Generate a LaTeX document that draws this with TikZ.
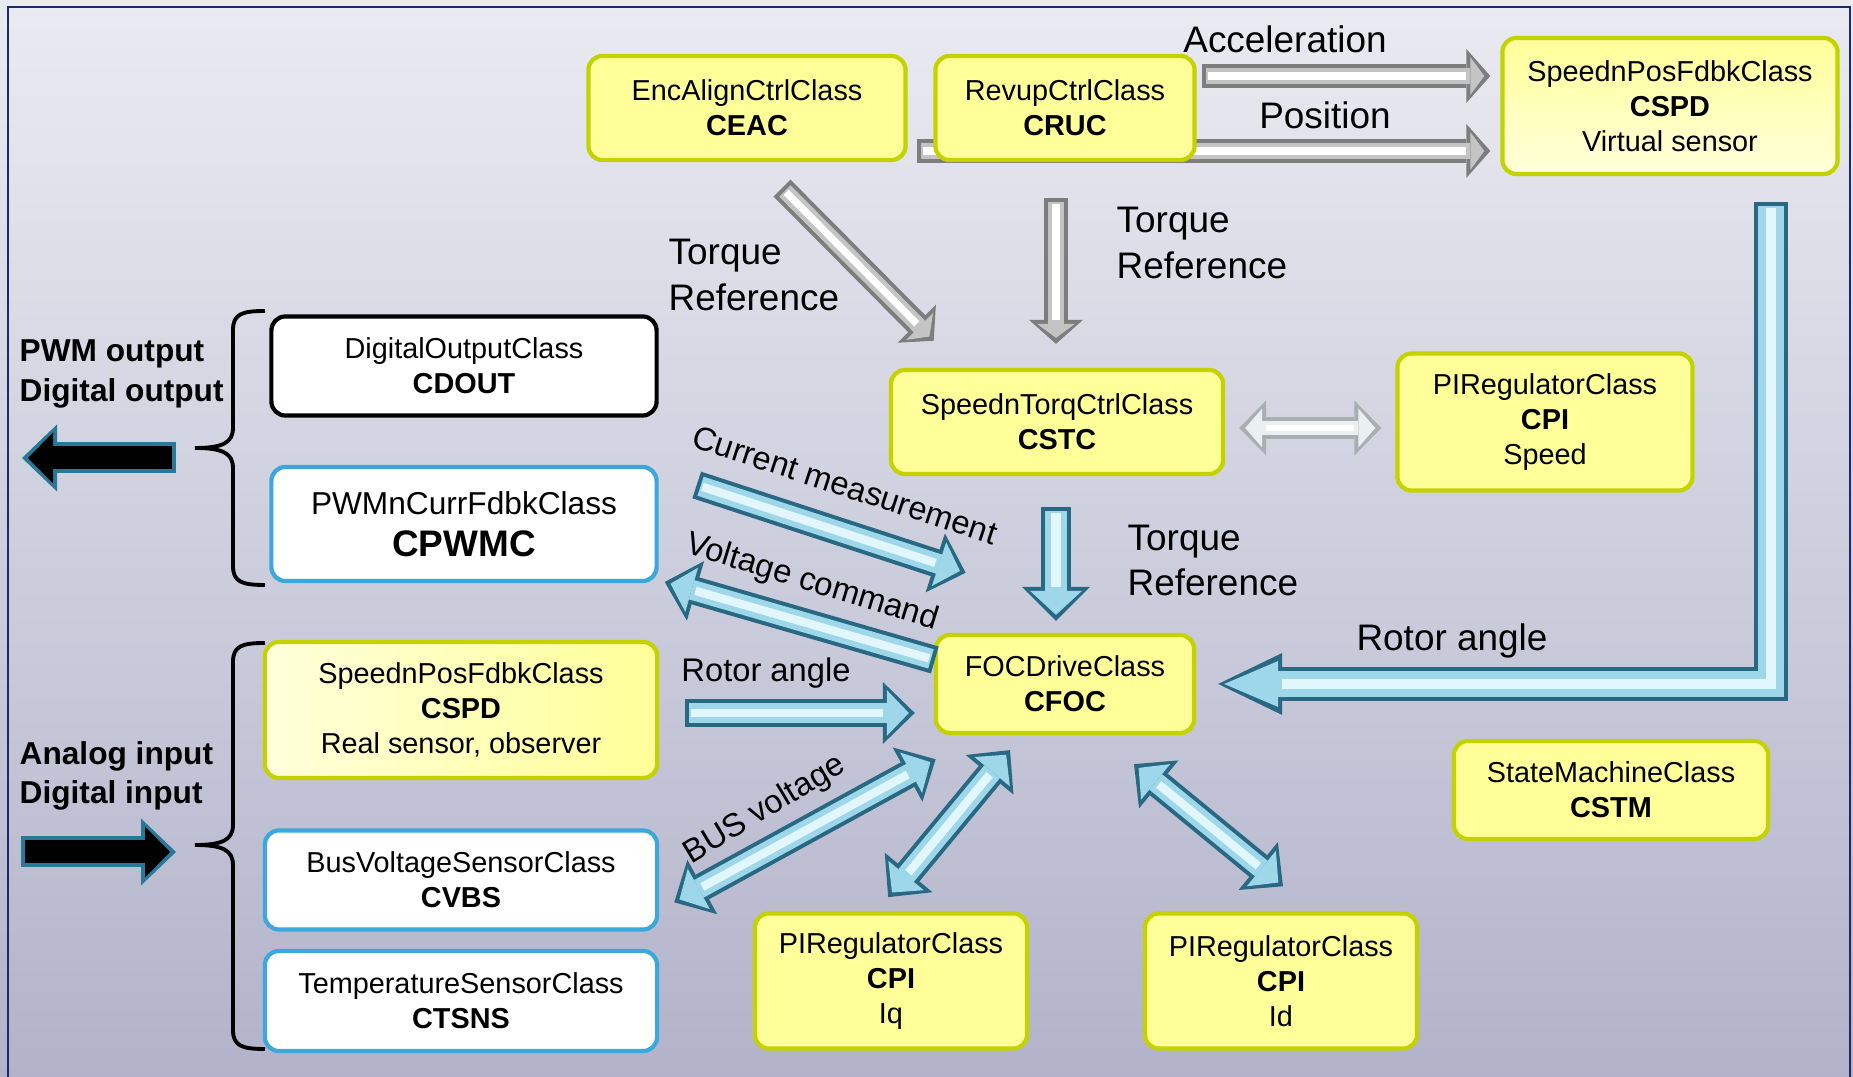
\documentclass[tikz,border=0pt]{standalone}
\usepackage{fontspec}
\setmainfont{Liberation Sans}
\usetikzlibrary{calc,decorations.markings}

\definecolor{yfill}{RGB}{255,255,153}
\definecolor{yedge}{RGB}{196,210,0}
\definecolor{bline}{RGB}{58,168,220}
\definecolor{aedge}{RGB}{40,104,130}
\definecolor{afill}{RGB}{158,214,234}
\definecolor{ashine}{RGB}{226,247,253}
\definecolor{gedge}{RGB}{125,125,125}
\definecolor{gfill}{RGB}{196,196,196}
\definecolor{ledge}{RGB}{168,174,178}
\definecolor{lfill}{RGB}{236,239,241}
\definecolor{kedge}{RGB}{42,120,152}
\definecolor{bgtop}{RGB}{234,235,241}
\definecolor{bgbot}{RGB}{178,179,202}
\definecolor{framecol}{RGB}{30,40,110}

% head of a block arrow, drawn at the end of the path
\newcommand\headtip[4]{%
  \fill[#1] (-#4,-#3/2) -- (0,0) -- (-#4,#3/2) -- cycle;
  \fill[#2] (-#4+4,-#3/2+8) -- (-6,0) -- (-#4+4,#3/2-8) -- cycle;}

\tikzset{
  box/.style={rounded corners=0.14cm, line width=1.2pt, align=center, inner sep=0pt,
    font=\fontsize{8.2}{10}\selectfont},
  ybox/.style={box, draw=yedge, fill=yfill},
  wbox/.style={box, draw=bline, fill=white},
  kbox/.style={box, draw=black, fill=white},
  lbl/.style={font=\fontsize{10.5}{12.8}\selectfont, align=left, inner sep=0pt},
  side/.style={font=\bfseries\fontsize{9}{11.1}\selectfont, align=left, inner sep=0pt, anchor=west},
  bracket/.style={line width=1.1pt},
  blockarrow/.style n args={6}{draw=#1, line width=#4*0.01cm, shorten >=#6*0.01cm,
    postaction={decorate, decoration={markings, mark=at position 1 with {\headtip{#1}{#2}{#5}{#6}}}},
    postaction={draw=#2, line width=(#4-8)*0.01cm, shorten >=(#6-4)*0.01cm, shorten <=0.04cm},
    postaction={draw=#3, line width=#4*0.003cm, shorten >=#6*0.01cm, shorten <=0.06cm}},
  blockarrows/.style n args={6}{draw=#1, line width=#4*0.01cm, shorten >=#6*0.01cm, shorten <=#6*0.01cm,
    postaction={decorate, decoration={markings,
      mark=at position 0 with {\begin{scope}[rotate=180]\headtip{#1}{#2}{#5}{#6}\end{scope}},
      mark=at position 1 with {\headtip{#1}{#2}{#5}{#6}}}},
    postaction={draw=#2, line width=(#4-8)*0.01cm, shorten >=(#6-4)*0.01cm, shorten <=(#6-4)*0.01cm},
    postaction={draw=#3, line width=#4*0.003cm, shorten >=#6*0.01cm, shorten <=#6*0.01cm}},
  grayarrow/.style={blockarrow={gedge}{gfill}{white}{24}{54}{24}},
  lightarrows/.style={blockarrows={ledge}{lfill}{white}{22}{55}{27}},
  bluearrow/.style={blockarrow={aedge}{afill}{ashine}{28}{62}{32}},
  bluearrows/.style={blockarrows={aedge}{afill}{ashine}{28}{62}{32}},
  blackarrow/.style={blockarrow={kedge}{black}{black}{31}{67}{35}},
}

\begin{document}
\begin{tikzpicture}[x=0.01cm, y=-0.01cm]
	\useasboundingbox (0,0) rectangle (1853,1077);
	\shade[top color=bgtop, bottom color=bgbot] (0,0) rectangle (1853,1077);
	\draw[framecol, line width=0.7pt] (8,7) rectangle (1850,1090);

	% upper row
	\node[ybox, minimum width=3.17cm, minimum height=1.04cm] (ceac) at (747,108) {EncAlignCtrlClass\\\textbf{CEAC}};
	\node[ybox, top color=yfill, bottom color=yfill!35!white, minimum width=3.35cm, minimum height=1.36cm] (cspdv) at (1670,106) {SpeednPosFdbkClass\\\textbf{CSPD}\\Virtual sensor};
	\path[grayarrow] ($(ceac.east)+(9,43)$) -- ($(cspdv.west)+(-10,45)$);
	\node[ybox, minimum width=2.59cm, minimum height=1.04cm] (cruc) at (1065,108) {RevupCtrlClass\\\textbf{CRUC}};
	\path[grayarrow] ($(cruc.east)+(5,-32)$) -- ($(cspdv.west)+(-10,-30)$);
	\node[lbl] (lacc) at (1285,39) {Acceleration};
	\node[lbl] (lpos) at (1325,115) {Position};

	% speed loop
	\node[ybox, minimum width=3.32cm, minimum height=1.04cm] (cstc) at (1057,422) {SpeednTorqCtrlClass\\\textbf{CSTC}};
	\node[ybox, minimum width=2.95cm, minimum height=1.37cm] (cpis) at (1545,422) {PIRegulatorClass\\\textbf{CPI}\\Speed};
	\path[grayarrow] ($(ceac.south)+(35,26)$) -- ($(cstc.north west)+(45,-27)$);
	\path[grayarrow] ($(cruc.south)+(-9,36)$) -- ($(cstc.north)+(-1,-24)$);
	\path[lightarrows] ($(cstc.east)+(14,6)$) -- ($(cpis.west)+(-14,6)$);
	\node[lbl, anchor=west] (ltq1) at (668,275) {Torque\\Reference};
	\node[lbl, anchor=west] (ltq2) at (1116,243) {Torque\\Reference};

	% output side
	\node[kbox, minimum width=3.85cm, minimum height=0.99cm] (cdout) at (464,366) {DigitalOutputClass\\\textbf{CDOUT}};
	\node[wbox, minimum width=3.85cm, minimum height=1.14cm, font=\fontsize{9}{12}\selectfont] (cpwmc) at (464,524) {PWMnCurrFdbkClass\\{\fontsize{10.5}{12}\selectfont\bfseries CPWMC}};

	% current loop
	\node[ybox, minimum width=2.58cm, minimum height=0.98cm] (cfoc) at (1065,684) {FOCDriveClass\\\textbf{CFOC}};
	\node[ybox, left color=yfill!35!white, right color=yfill, minimum width=3.92cm, minimum height=1.36cm] (cspdr) at (461,710) {SpeednPosFdbkClass\\\textbf{CSPD}\\Real sensor, observer};
	\node[wbox, minimum width=3.92cm, minimum height=0.99cm] (cvbs) at (461,880) {BusVoltageSensorClass\\\textbf{CVBS}};
	\node[wbox, minimum width=3.92cm, minimum height=1.00cm] (ctsns) at (461,1001) {TemperatureSensorClass\\\textbf{CTSNS}};
	\node[ybox, minimum width=2.72cm, minimum height=1.35cm] (cpiq) at (891,981) {PIRegulatorClass\\\textbf{CPI}\\Iq};
	\node[ybox, minimum width=2.72cm, minimum height=1.35cm] (cpid) at (1281,981) {PIRegulatorClass\\\textbf{CPI}\\Id};
	\node[ybox, minimum width=3.14cm, minimum height=0.98cm] (cstm) at (1611,790) {StateMachineClass\\\textbf{CSTM}};

	\path[blockarrow={aedge}{afill}{ashine}{30}{68}{34}] ($(cstc.south)+(-1,31)$) -- ($(cfoc.north)+(-9,-12)$);
	\path[bluearrow] ($(cpwmc.east)+(38,-39)$) -- ($(cfoc.north west)+(32,-60)$);
	\path[bluearrow] ($(cfoc.west)+(1,-24)$) -- ($(cpwmc.east)+(6,58)$);
	\path[bluearrow] ($(cspdr.east)+(26,3)$) -- ($(cfoc.west)+(-19,29)$);
	\path[bluearrows] ($(cvbs.north east)+(15,74)$) -- ($(cfoc.south west)+(2,24)$);
	\path[bluearrows] ($(cfoc.south)+(-55,15)$) -- ($(cpiq.north)+(-3,-14)$);
	\path[bluearrows] ($(cfoc.south)+(69,29)$) -- ($(cpid.north)+(2,-25)$);
	\path[blockarrow={aedge}{afill}{ashine}{34}{62}{64}] ($(cspdv.south)+(101,26)$) |- ($(cfoc.east)+(22,0)$);

	\node[lbl, anchor=west] (ltq3) at (1127,560) {Torque\\Reference};
	\node[lbl] (lrot1) at (1452,641) {Rotor angle};
	\node[lbl, font=\fontsize{9.3}{11}\selectfont] (lrot2) at (766,673) {Rotor angle};
	\node[lbl, font=\fontsize{9.3}{11}\selectfont, rotate=-18] (lcur) at (845,485) {Current measurement};
	\node[lbl, font=\fontsize{9.3}{11}\selectfont, rotate=-17] (lvolt) at (812,583) {Voltage command};
	\node[lbl, font=\fontsize{9.3}{11}\selectfont, rotate=31] (lbus) at (765,810) {BUS voltage};

	% brackets and the outside world
	\draw[bracket] (265,311) .. controls (242,311) and (233,314) .. (233,330) -- (233,428)
		.. controls (233,443) and (222,448) .. (195,448) .. controls (222,448) and (233,453) .. (233,468)
		-- (233,566) .. controls (233,582) and (242,585) .. (265,585);
	\draw[bracket] (265,643) .. controls (242,643) and (233,646) .. (233,662) -- (233,825)
		.. controls (233,840) and (222,845) .. (195,845) .. controls (222,845) and (233,850) .. (233,865)
		-- (233,1030) .. controls (233,1046) and (242,1049) .. (265,1049);
	\node[side] (lout) at (19,374) {PWM output\\Digital output};
	\node[side] (lin) at (19,776) {Analog input\\Digital input};
	\coordinate (outtail) at (176,458);
	\coordinate (outtip) at (22,458);
	\coordinate (intail) at (21,852);
	\coordinate (intip) at (176,852);
	\path[blackarrow] (outtail) -- (outtip);
	\path[blackarrow] (intail) -- (intip);
\end{tikzpicture}
\end{document}
